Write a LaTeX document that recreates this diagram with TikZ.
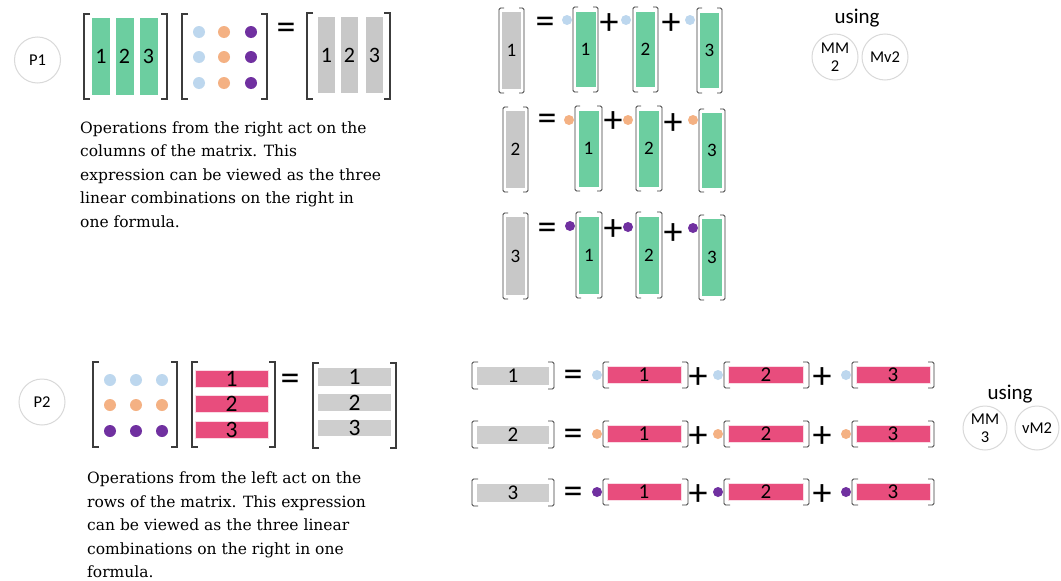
\documentclass[tikz,border=0pt]{standalone}
\usepackage{fontspec}
\setmainfont{Carlito}
\newfontfamily\parafont{DejaVu Serif}
\definecolor{cgreen}{RGB}{108,206,160}
\definecolor{cgray}{RGB}{200,200,200}
\definecolor{cgrayb}{RGB}{206,206,206}
\definecolor{cpink}{RGB}{232,77,125}
\definecolor{cblue}{RGB}{189,215,238}
\definecolor{corange}{RGB}{244,177,131}
\definecolor{cpurple}{RGB}{112,48,160}
\definecolor{ccirc}{RGB}{217,217,217}
\definecolor{cbrk}{RGB}{60,60,60}
\tikzset{
  bar/.style={inner sep=0pt, outer sep=0pt, font=\fontsize{22}{22}\selectfont},
  gcol/.style={bar, fill=cgreen},
  grcol/.style={bar, fill=cgray},
  pkrow/.style={bar, fill=cpink, draw=white!80!cpink, line width=0.8pt},
  grrow/.style={bar, fill=cgrayb},
  dotb/.style={circle, inner sep=0pt, minimum size=12pt, fill=#1},
  dots/.style={circle, inner sep=0pt, minimum size=10pt, fill=#1},
  brk/.style={draw=cbrk, line width=1.1pt},
  sbrk/.style={draw=cbrk, line width=0.8pt, rounded corners=1.5pt},
  pcirc/.style={circle, draw=ccirc, line width=1pt, minimum size=46pt, inner sep=0pt, font=\fontsize{16.5}{18}\selectfont, align=center},
  op/.style={inner sep=0pt, font=\fontsize{38}{38}\selectfont},
  para/.style={inner sep=0pt, anchor=base west, align=left, font=\parafont\fontsize{15.5}{23.5}\selectfont},
  usingt/.style={inner sep=0pt, font=\fontsize{21}{21}\selectfont},
}
\newcommand\mbrk[5][brk]{%
  \draw[#1] ({#2+6},#3) -- (#2,#3) -- (#2,#5) -- ({#2+6},#5);
  \draw[#1] ({#4-6},#3) -- (#4,#3) -- (#4,#5) -- ({#4-6},#5);}
\newcommand\sbrkk[4]{%
  \draw[sbrk] ({#1+5},#2) -- (#1,#2) -- (#1,#4) -- ({#1+5},#4);
  \draw[sbrk] ({#3-5},#2) -- (#3,#2) -- (#3,#4) -- ({#3-5},#4);}
\begin{document}
\begin{tikzpicture}[x=1pt,y=-1pt]
\useasboundingbox[fill=white] (0,0) rectangle (1061,581);

% ---------------- P1 ----------------
\node[pcirc] (p1) at (37.5,60) {P1};
% green matrix
\mbrk{84}{14}{167}{99}
\node[gcol, minimum width=18pt, minimum height=77pt] (a1) at (101,56.5) {1};
\node[gcol, minimum width=18pt, minimum height=77pt] (a2) at (124.5,56.5) {2};
\node[gcol, minimum width=18pt, minimum height=77pt] (a3) at (148.5,56.5) {3};
% dot matrix
\mbrk{182}{14}{267}{99}
\foreach \r/\y in {1/32,2/57,3/83}{
  \node[dotb=cblue] (d\r1) at (199,\y) {};
  \node[dotb=corange] (d\r2) at (224,\y) {};
  \node[dotb=cpurple] (d\r3) at (251,\y) {};
}
\node[op] (eq1) at (286,31.5) {=};
% result gray
\mbrk{307}{13}{390}{99}
\node[grcol, minimum width=17pt, minimum height=76pt] (b1) at (326.5,55) {1};
\node[grcol, minimum width=17pt, minimum height=76pt] (b2) at (349.5,55) {2};
\node[grcol, minimum width=17pt, minimum height=76pt] (b3) at (374.5,55) {3};

\node[para] (t1) at (80,227) {Operations from the right act on the\\columns of the matrix. This\\expression can be viewed as the three\\linear combinations on the right in\\one formula.};

% column combinations
\foreach \k/\ya/\yb/\gx/\dc in {1/8/93/499/cblue, 2/107/192/503/corange, 3/213/299/503/cpurple}{
  \sbrkk{\gx}{\ya}{\gx+25}{\yb}
  \node[grcol, minimum width=19pt, minimum height=\yb-\ya-8] (c\k) at (\gx+12.5,{(\ya+\yb)/2}) {\fontsize{19}{19}\selectfont\k};
}
% row 1
\node[op] (e1) at (545,25) {=};
\node[dots=cblue] (u11) at (567,20) {};
\sbrkk{573}{7}{598}{92}
\node[gcol, minimum width=20pt, minimum height=75pt] (g11) at (585.5,49.5) {\fontsize{19}{19}\selectfont 1};
\node[op] (s11) at (609,24) {+};
\node[dots=cblue] (u12) at (626,20) {};
\sbrkk{633}{7}{658}{92}
\node[gcol, minimum width=19pt, minimum height=75pt] (g12) at (645.5,49.5) {\fontsize{19}{19}\selectfont 2};
\node[op] (s12) at (671,24) {+};
\node[dots=cblue] (u13) at (690,20) {};
\sbrkk{697}{8}{722}{93}
\node[gcol, minimum width=19pt, minimum height=75pt] (g13) at (709.5,50.5) {\fontsize{19}{19}\selectfont 3};
% row 2
\node[op] (e2) at (547,122) {=};
\node[dots=corange] (u21) at (569,120) {};
\sbrkk{575}{106}{602}{191}
\node[gcol, minimum width=20pt, minimum height=76pt] (g21) at (588.5,148.5) {\fontsize{19}{19}\selectfont 1};
\node[op] (s21) at (613,122) {+};
\node[dots=corange] (u22) at (628,120) {};
\sbrkk{636}{106}{662}{191}
\node[gcol, minimum width=20pt, minimum height=76pt] (g22) at (649,148.5) {\fontsize{19}{19}\selectfont 2};
\node[op] (s22) at (673,124) {+};
\node[dots=corange] (u23) at (693,120) {};
\sbrkk{699}{109}{725}{192}
\node[gcol, minimum width=20pt, minimum height=75pt] (g23) at (712,150.5) {\fontsize{19}{19}\selectfont 3};
% row 3
\node[op] (e3) at (547,231.5) {=};
\node[dots=cpurple] (u31) at (570,226) {};
\sbrkk{576}{212}{602}{298}
\node[gcol, minimum width=20pt, minimum height=77pt] (g31) at (589,255) {\fontsize{19}{19}\selectfont 1};
\node[op] (s31) at (613,230) {+};
\node[dots=cpurple] (u32) at (628,227) {};
\sbrkk{636}{212}{662}{298}
\node[gcol, minimum width=20pt, minimum height=77pt] (g32) at (649,255) {\fontsize{19}{19}\selectfont 2};
\node[op] (s32) at (673,234) {+};
\node[dots=cpurple] (u33) at (693,228) {};
\sbrkk{699}{215}{725}{300}
\node[gcol, minimum width=20pt, minimum height=77pt] (g33) at (712,257.5) {\fontsize{19}{19}\selectfont 3};

\node[usingt] (us1) at (857,18) {using};
\node[pcirc] (mm2) at (835,57) {MM\\2};
\node[pcirc] (mv2) at (885,57) {Mv2};

% ---------------- P2 ----------------
\node[pcirc] (p2) at (42,402) {P2};
\mbrk{93}{362}{177}{447}
\foreach \x/\c in {110/cblue,136/cblue,162/cblue}{\node[dotb=\c] at (\x,380) {};}
\foreach \x/\c in {110/corange,136/corange,162/corange}{\node[dotb=\c] at (\x,405) {};}
\foreach \x/\c in {110/cpurple,136/cpurple,162/cpurple}{\node[dotb=\c] at (\x,431) {};}
\mbrk{192}{362}{275}{447}
\node[pkrow, minimum width=73pt, minimum height=17pt] (r1) at (231.5,378.5) {\fontsize{23.5}{23.5}\selectfont 1};
\node[pkrow, minimum width=73pt, minimum height=17pt] (r2) at (231.5,404) {\fontsize{23.5}{23.5}\selectfont 2};
\node[pkrow, minimum width=73pt, minimum height=17pt] (r3) at (231.5,430) {\fontsize{23.5}{23.5}\selectfont 3};
\node[op] (eq2) at (290,382.5) {=};
\mbrk{313}{363}{396}{448}
\node[grrow, minimum width=73pt, minimum height=18pt] (q1) at (354.5,377) {\fontsize{23.5}{23.5}\selectfont 1};
\node[grrow, minimum width=73pt, minimum height=17pt] (q2) at (354.5,402.5) {\fontsize{23.5}{23.5}\selectfont 2};
\node[grrow, minimum width=73pt, minimum height=16pt] (q3) at (354.5,428) {\fontsize{23.5}{23.5}\selectfont 3};

\node[para] (t2) at (87,577.5) {Operations from the left act on the\\rows of the matrix. This expression\\can be viewed as the three linear\\combinations on the right in one\\formula.};

% row combinations
\foreach \k/\ya/\c in {1/375/cblue, 2/434/corange, 3/492/cpurple}{
  \mbrk[sbrk]{472}{\ya-13}{554}{\ya+14}
  \node[grrow, minimum width=72pt, minimum height=18pt] (h\k) at (513,\ya+1) {\fontsize{21}{21}\selectfont\k};
  \node[op] (f\k) at (573,\ya+3) {=};
  \node[dots=\c] (v\k1) at (597,\ya) {};
  \mbrk[sbrk]{603}{\ya-13}{688}{\ya+13}
  \node[pkrow, minimum width=74pt, minimum height=17pt] (k\k1) at (644,\ya) {\fontsize{21}{21}\selectfont 1};
  \node[op] (m\k1) at (698,\ya+3) {+};
  \node[dots=\c] (v\k2) at (718,\ya) {};
  \mbrk[sbrk]{724}{\ya-13}{809}{\ya+13}
  \node[pkrow, minimum width=75pt, minimum height=17pt] (k\k2) at (766,\ya) {\fontsize{21}{21}\selectfont 2};
  \node[op] (m\k2) at (822,\ya+3) {+};
  \node[dots=\c] (v\k3) at (846,\ya) {};
  \mbrk[sbrk]{852}{\ya-13}{934}{\ya+13}
  \node[pkrow, minimum width=74pt, minimum height=17pt] (k\k3) at (893,\ya) {\fontsize{21}{21}\selectfont 3};
}

\node[usingt] (us2) at (1010,394) {using};
\node[pcirc, minimum size=44pt] (mm3) at (985,428) {MM\\3};
\node[pcirc, minimum size=44pt] (vm2) at (1037,428) {vM2};
\end{tikzpicture}
\end{document}
